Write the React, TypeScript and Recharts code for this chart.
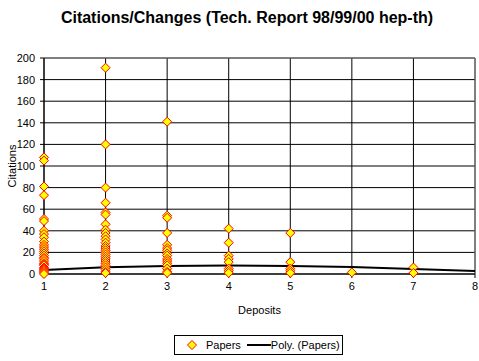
import React from "react";
import {
  ScatterChart,
  Scatter,
  XAxis,
  YAxis,
  CartesianGrid,
  ReferenceLine,
  Label,
} from "recharts";

const deposits = [1, 2, 3, 4, 5, 6, 7];
const citations1 = [108, 105, 81, 73, 51, 49, 40, 37, 34, 30, 27, 25, 23, 21, 19, 17, 15, 14, 12, 10, 9, 8, 6, 5, 4, 3, 2, 1, 0];
const citations2 = [191, 120, 80, 66, 57, 55, 46, 41, 38, 35, 32, 29, 26, 24, 22, 20, 18, 16, 14, 12, 10, 8, 6, 4, 2, 1];
const citations3 = [141, 54, 52, 38, 27, 24, 22, 19, 17, 14, 12, 10, 8, 5, 2, 1];
const citations4 = [42, 29, 17, 14, 11, 5, 3, 1];
const citations5 = [38, 11, 5, 3, 1];
const citations6 = [1.5];
const citations7 = [6, 1];

const trendX = [1, 2, 3, 4, 5, 6, 7, 8];
const trendY = [3.7, 6.3, 7.4, 7.8, 7.4, 6.4, 4.6, 2.8];

const xTicks = [1, 2, 3, 4, 5, 6, 7, 8];
const yTicks = [0, 20, 40, 60, 80, 100, 120, 140, 160, 180, 200];

const byDeposit = [citations1, citations2, citations3, citations4, citations5, citations6, citations7];
const papers = deposits.flatMap((d, i) => byDeposit[i].map((c) => ({ x: d, y: c })));
const trend = trendX.map((x, i) => ({ x, y: trendY[i] }));

const font = "'Liberation Sans', Arial, sans-serif";

const Diamond = (props: any) => {
  const { cx, cy } = props;
  if (cx == null || cy == null) return <g />;
  const r = 4.5;
  return (
    <polygon
      points={`${cx},${cy - r} ${cx + r},${cy} ${cx},${cy + r} ${cx - r},${cy}`}
      fill="#FFFF00"
      stroke="#FF0000"
      strokeWidth={1}
    />
  );
};

const NoShape = () => <g />;

export default function App() {
  return (
    <div style={{ position: "absolute", left: 0, top: 0, width: 479, height: 361, background: "#fff", fontFamily: font }}>
      <div
        style={{
          position: "absolute",
          left: 0,
          width: 494,
          top: 9,
          textAlign: "center",
          fontWeight: "bold",
          fontSize: 16,
          color: "#000",
        }}
      >
        Citations/Changes (Tech. Report 98/99/00 hep-th)
      </div>
      <ScatterChart width={479} height={361} margin={{ top: 58, right: 4, bottom: 0, left: 0 }}>
        <CartesianGrid stroke="#000" strokeWidth={1} />
        <XAxis
          type="number"
          dataKey="x"
          domain={[1, 8]}
          ticks={xTicks}
          interval={0}
          axisLine={{ stroke: "#000" }}
          tickLine={{ stroke: "#000" }}
          tickSize={4}
          tickMargin={4}
          tick={{ fontSize: 11, fill: "#000", fontFamily: font }}
          height={87}
        >
          <Label value="Deposits" position="insideTop" offset={32} style={{ fontSize: 11, fill: "#000", fontFamily: font }} />
        </XAxis>
        <YAxis
          type="number"
          dataKey="y"
          domain={[0, 200]}
          ticks={yTicks}
          interval={0}
          axisLine={{ stroke: "#000" }}
          tickLine={{ stroke: "#000" }}
          tickSize={4}
          tickMargin={5}
          tick={{ fontSize: 11, fill: "#000", fontFamily: font }}
          width={44}
        >
          <Label
            value="Citations"
            angle={-90}
            position="insideLeft"
            offset={12}
            style={{ fontSize: 11, fill: "#000", fontFamily: font, textAnchor: "middle" }}
          />
        </YAxis>
        <ReferenceLine y={200} stroke="#808080" />
        <ReferenceLine x={8} stroke="#808080" />
        <Scatter
          name="Poly. (Papers)"
          data={trend}
          line={{ stroke: "#000", strokeWidth: 2 }}
          lineType="joint"
          shape={NoShape}
          isAnimationActive={false}
        />
        <Scatter name="Papers" data={papers} shape={Diamond} isAnimationActive={false} />
      </ScatterChart>
      <div
        style={{
          position: "absolute",
          left: 174,
          top: 335,
          width: 169,
          height: 20,
          border: "1px solid #000",
          boxSizing: "border-box",
          display: "flex",
          alignItems: "center",
          fontSize: 11,
          color: "#000",
        }}
      >
        <svg width={12} height={12} style={{ marginLeft: 11 }}>
          <polygon points="6,1.5 10.5,6 6,10.5 1.5,6" fill="#FFFF00" stroke="#FF0000" />
        </svg>
        <span style={{ marginLeft: 8 }}>Papers</span>
        <span style={{ display: "inline-block", width: 24, height: 2, background: "#000", marginLeft: 6 }} />
        <span>Poly. (Papers)</span>
      </div>
    </div>
  );
}
